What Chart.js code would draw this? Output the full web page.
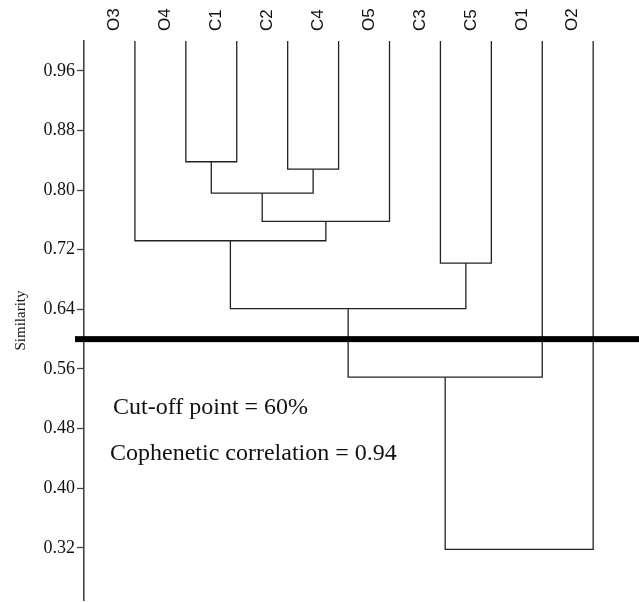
<!DOCTYPE html>
<html>
<head>
<meta charset="utf-8">
<script src="https://cdn.jsdelivr.net/npm/chart.js@4.4.1/dist/chart.umd.min.js"></script>
<style>
  html, body { margin: 0; padding: 0; background: #fff; }
  #wrap { width: 639px; height: 602px; }
</style>
</head>
<body>
<div id="wrap"><canvas id="dendro" width="639" height="602"></canvas></div>
<script>
// Leaf order along the top of the dendrogram
const leaves = ['O3', 'O4', 'C1', 'C2', 'C4', 'O5', 'C3', 'C5', 'O1', 'O2'];

// Agglomeration steps: ids < leaves.length are leaves, higher ids are earlier merges
const mergeLeft   = [1, 3, 10, 12, 0, 6, 14, 16, 17];
const mergeRight  = [2, 4, 11, 5, 13, 7, 15, 8, 9];
const mergeHeight = [0.838, 0.828, 0.796, 0.758, 0.732, 0.702, 0.641, 0.549, 0.318];

// Similarity axis
const yTicks = [0.32, 0.40, 0.48, 0.56, 0.64, 0.72, 0.80, 0.88, 0.96];
const yMin = 0.25;
const yMax = 1.00;     // leaves hang from the top of the axis
const cutOff = 0.60;
const copheneticCorrelation = 0.94;

// Position and height of every node (leaves first, then merged clusters)
const nodeX = leaves.map((_, i) => i);
const nodeY = leaves.map(() => yMax);
const links = [];
mergeHeight.forEach((h, k) => {
  const a = mergeLeft[k], b = mergeRight[k];
  links.push([
    { x: nodeX[a], y: nodeY[a] },
    { x: nodeX[a], y: h },
    { x: nodeX[b], y: h },
    { x: nodeX[b], y: nodeY[b] }
  ]);
  nodeX.push((nodeX[a] + nodeX[b]) / 2);
  nodeY.push(h);
});

const lineColor = '#222';
const datasets = links.map(pts => ({
  data: pts,
  borderColor: lineColor,
  borderWidth: 1.3,
  pointRadius: 0,
  tension: 0,
  fill: false
}));

// Thick cut-off line plus the two notes below it
const overlay = {
  id: 'overlay',
  afterDatasetsDraw(chart) {
    const { ctx, chartArea, scales } = chart;
    const y = scales.y.getPixelForValue(cutOff);
    ctx.save();
    ctx.fillStyle = '#000';
    ctx.fillRect(chartArea.left - 9, y - 3, chart.width - chartArea.left + 9, 6);
    ctx.fillStyle = '#111';
    ctx.font = '24px "Liberation Serif", "Times New Roman", serif';
    ctx.textBaseline = 'alphabetic';
    ctx.textAlign = 'left';
    ctx.fillText('Cut-off point = ' + Math.round(cutOff * 100) + '%', chartArea.left + 29, 414);
    ctx.fillText('Cophenetic correlation = ' + copheneticCorrelation.toFixed(2), chartArea.left + 26, 460);
    ctx.restore();
  }
};

new Chart(document.getElementById('dendro'), {
  type: 'line',
  data: { datasets },
  plugins: [overlay],
  options: {
    responsive: false,
    animation: false,
    devicePixelRatio: 1,
    layout: { padding: { top: 0, right: 0, bottom: 2, left: 0 } },
    plugins: { legend: { display: false }, tooltip: { enabled: false } },
    scales: {
      x: {
        type: 'linear',
        position: 'top',
        min: -1,
        max: 9.9,
        grid: { display: false, drawTicks: false },
        border: { display: false },
        afterBuildTicks: s => { s.ticks = leaves.map((_, i) => ({ value: i })); },
        afterFit: s => { s.height = 41; s.paddingLeft = 0; s.paddingRight = 0; },
        ticks: {
          autoSkip: false,
          minRotation: 90,
          maxRotation: 90,
          padding: 10,
          color: '#111',
          font: { family: '"Liberation Sans", Arial, sans-serif', size: 17 },
          callback: v => leaves[v]
        }
      },
      y: {
        type: 'linear',
        min: yMin,
        max: yMax,
        afterBuildTicks: s => { s.ticks = yTicks.map(v => ({ value: v })); },
        afterFit: s => { s.width = 84; s.paddingTop = 0; s.paddingBottom = 0; },
        grid: {
          drawOnChartArea: false,
          drawTicks: true,
          tickLength: 7,
          tickColor: '#444',
          tickWidth: 1.3
        },
        border: { display: true, color: '#444', width: 1.6 },
        ticks: {
          padding: 2,
          color: '#111',
          font: { family: '"Liberation Serif", "Times New Roman", serif', size: 18 },
          callback: v => v.toFixed(2)
        },
        title: {
          display: true,
          text: 'Similarity',
          color: '#111',
          padding: { top: 12, bottom: 0 },
          font: { family: '"Liberation Serif", "Times New Roman", serif', size: 15 }
        }
      }
    }
  }
});
</script>
</body>
</html>
